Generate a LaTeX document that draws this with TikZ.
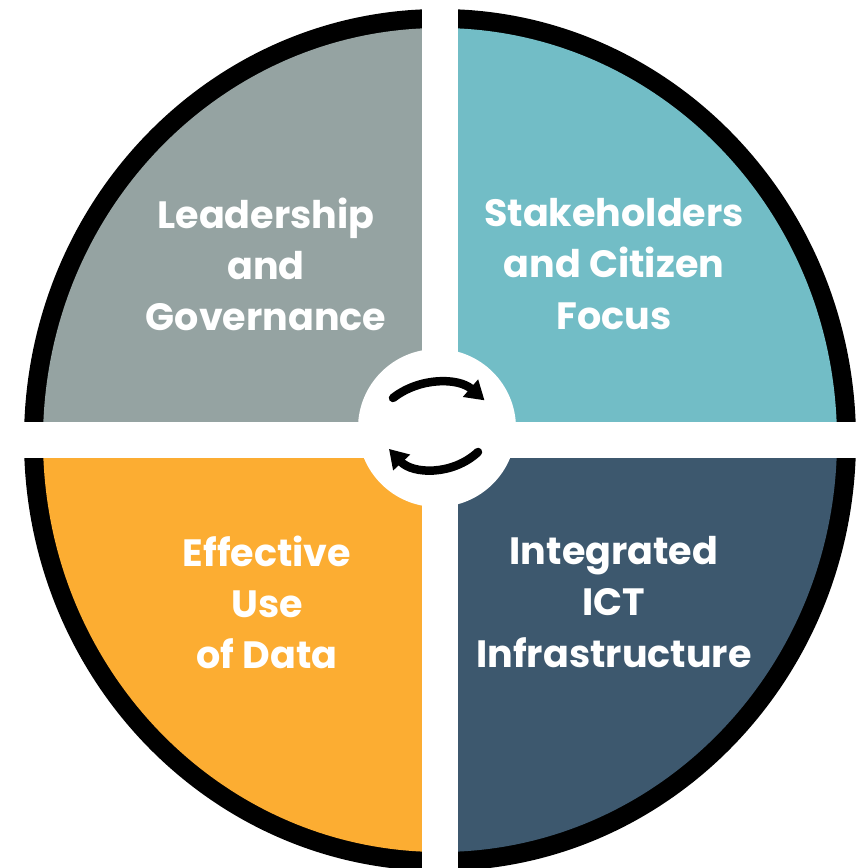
\documentclass[tikz,border=0pt]{standalone}
\usepackage{fontspec}
\setmainfont{Poppins}
\usetikzlibrary{arrows.meta}
\definecolor{leadgray}{HTML}{95A3A2}
\definecolor{staketeal}{HTML}{72BDC6}
\definecolor{dataorange}{HTML}{FCAD32}
\definecolor{ictnavy}{HTML}{3D586E}

\begin{document}
\begin{tikzpicture}[x=0.3mm, y=0.3mm,
   lab/.style={text=white, font=\fontsize{32.5}{43.6}\selectfont\bfseries, align=center, inner sep=0pt},
   cyclearrow/.style={line width=2.55mm, line cap=round, -{Triangle[length=5.6mm, width=6.6mm]}}]
  \useasboundingbox (0,0) rectangle (856,868);
  \clip (0,0) rectangle (856,868);
  \fill[black] (440,428) ellipse [x radius=416, y radius=431];
  \begin{scope}
    \clip (440,428) ellipse [x radius=397, y radius=412];
    \fill[leadgray] (0,428) rectangle (440,868);
    \fill[staketeal] (440,428) rectangle (856,868);
    \fill[dataorange] (0,0) rectangle (440,428);
    \fill[ictnavy] (440,0) rectangle (856,428);
  \end{scope}
  \fill[white] (422,0) rectangle (458,868);
  \fill[white] (0,410) rectangle (856,446);
  \fill[white] (437,440) circle [radius=79];

  \node[lab] (lead) at (266,604) {Leadership\\and\\Governance};
  \node[lab] (stake) at (614,604) {Stakeholders\\and Citizen\\Focus};
  \node[lab] (data) at (267,266) {Effective\\Use\\of Data};
  \node[lab] (ict) at (614,266) {Integrated\\ICT\\Infrastructure};

  \coordinate (upTail) at (393,470);
  \coordinate (downTail) at (478,416);
  \draw[cyclearrow] (upTail) arc [start angle=128, end angle=49, radius=72];
  \draw[cyclearrow] (downTail) arc [start angle=-47, end angle=-137, radius=63];
\end{tikzpicture}
\end{document}
